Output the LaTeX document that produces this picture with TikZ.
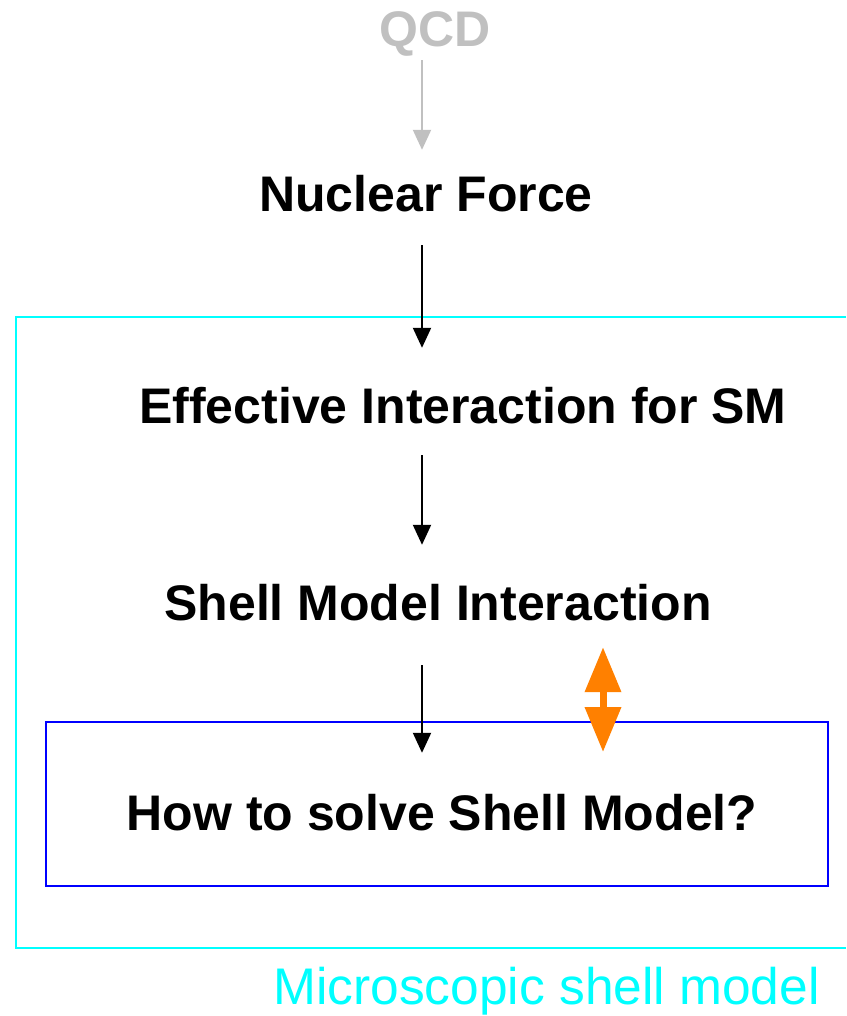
\documentclass[tikz,border=0pt]{standalone}
\usepackage{fontspec}
\setmainfont{Liberation Sans}
\usetikzlibrary{arrows.meta}
\definecolor{qgray}{HTML}{C0C0C0}
\definecolor{aqua}{HTML}{00FFFF}
\definecolor{pureblue}{HTML}{0000FF}
\definecolor{borange}{HTML}{FF8000}
\begin{document}
\begin{tikzpicture}[x=1pt,y=-1pt,
  lbl/.style={font=\bfseries\fontsize{50}{60}\selectfont, inner sep=0pt, text height=36pt, text depth=0pt, anchor=base},
  arr/.style={-{Triangle[width=18pt,length=20pt]}, line width=2pt},
  oarr/.style={{Triangle[width=35pt,length=45pt]}-{Triangle[width=35pt,length=45pt]}, line width=7pt, draw=borange}]
\useasboundingbox (0,0) rectangle (846,1016);
% outer (cyan) frame, open to the right edge
\draw[aqua, line width=2pt] (846,316.5) -- (15.5,316.5) -- (15.5,948) -- (846,948);
% blue box
\node[draw=pureblue, line width=2pt, minimum width=782pt, minimum height=164pt, inner sep=0pt] (solvebox) at (437,804) {};
% labels
\node[lbl, text=qgray] (qcd) at (435,47) {QCD};
\node[lbl] (nf) at (426,212) {Nuclear Force};
\node[lbl] (eff) at (463,423) {Effective Interaction for SM};
\node[lbl] (shell) at (438,620) {Shell Model Interaction};
\node[lbl] (how) at (442,830) {How to solve Shell Model?};
\node[font=\fontsize{51.5}{60}\selectfont, text=aqua, anchor=base, inner sep=0pt] (msm) at (546.5,1004) {Microscopic shell model};
% axes for arrows
\coordinate (ax) at (422,0);
\coordinate (ox) at (603,0);
% arrows
\draw[arr, qgray, shorten <=13pt, shorten >=26pt] (qcd.south -| ax) -- (nf.north -| ax);
\draw[arr, shorten <=33pt, shorten >=39pt] (nf.south -| ax) -- (eff.north -| ax);
\draw[arr, shorten <=32pt, shorten >=39pt] (eff.south -| ax) -- (shell.north -| ax);
\draw[arr, shorten <=45pt, shorten >=41pt] (shell.south -| ax) -- (how.north -| ax);
\draw[oarr, shorten <=27pt, shorten >=-31pt] (shell.south -| ox) -- (solvebox.north -| ox);
\end{tikzpicture}
\end{document}
